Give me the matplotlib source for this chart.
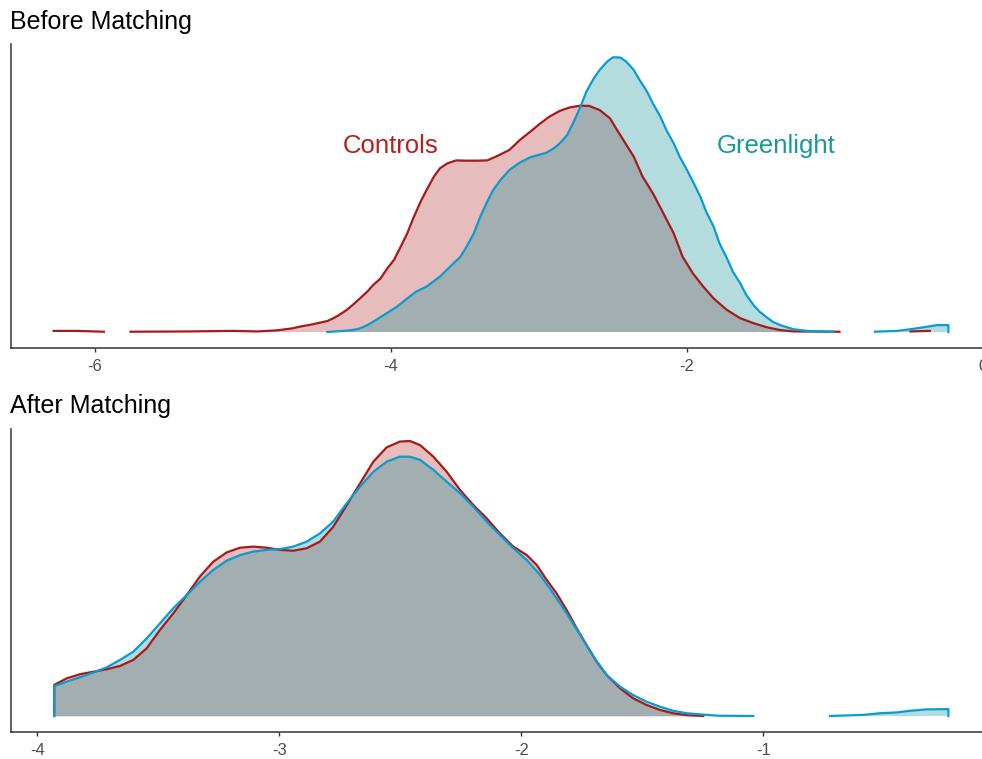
import numpy as np
import matplotlib
matplotlib.use("Agg")
import matplotlib.pyplot as plt

nan = np.nan

# density curves (y in arbitrary density units)
before_ctrl_x = [-6.28, -6.12, -5.94, -5.85, -5.76, -5.37, -5.07, -4.90, -4.77, -4.67, -4.62,
                 -4.53, -4.43, -4.39, -4.35, -4.30, -4.26, -4.21, -4.16, -4.12, -4.07, -4.03,
                 -3.98, -3.94, -3.89, -3.85, -3.80, -3.76, -3.71, -3.67, -3.62, -3.56, -3.49,
                 -3.42, -3.35, -3.29, -3.20, -3.13, -3.06, -2.99, -2.93, -2.86, -2.79, -2.72,
                 -2.66, -2.59, -2.52, -2.48, -2.43, -2.36, -2.30, -2.23, -2.16, -2.09, -2.03,
                 -1.96, -1.89, -1.82, -1.73, -1.64, -1.55, -1.46, -1.37, -1.28, -0.97, -0.72,
                 -0.49, -0.36]
before_ctrl_y = [0.004, 0.004, 0.001, nan, 0.001, 0.002, 0.004, 0.002, 0.006, 0.013, 0.019,
                 0.028, 0.040, 0.050, 0.062, 0.080, 0.098, 0.122, 0.147, 0.171, 0.195, 0.228,
                 0.262, 0.304, 0.359, 0.413, 0.474, 0.516, 0.565, 0.595, 0.613, 0.624, 0.623,
                 0.623, 0.624, 0.638, 0.662, 0.698, 0.728, 0.759, 0.783, 0.804, 0.817, 0.823,
                 0.822, 0.807, 0.777, 0.741, 0.698, 0.638, 0.565, 0.504, 0.432, 0.359, 0.274,
                 0.213, 0.165, 0.122, 0.080, 0.050, 0.032, 0.017, 0.007, 0.002, 0.001, nan,
                 0.002, 0.004]

before_green_x = [-4.43, -4.32, -4.26, -4.21, -4.16, -4.10, -4.03, -3.96, -3.89, -3.83, -3.76,
                  -3.67, -3.60, -3.53, -3.49, -3.44, -3.40, -3.35, -3.31, -3.26, -3.20, -3.13,
                  -3.06, -2.99, -2.95, -2.90, -2.86, -2.81, -2.77, -2.72, -2.68, -2.63, -2.59,
                  -2.54, -2.50, -2.45, -2.41, -2.36, -2.32, -2.27, -2.23, -2.18, -2.14, -2.09,
                  -2.05, -2.00, -1.96, -1.91, -1.87, -1.82, -1.78, -1.73, -1.69, -1.64, -1.60,
                  -1.55, -1.51, -1.46, -1.42, -1.37, -1.28, -1.19, -1.01, -0.87, -0.73, -0.58,
                  -0.49, -0.38, -0.31, -0.234, -0.234]
before_green_y = [0.0, 0.004, 0.007, 0.013, 0.025, 0.044, 0.068, 0.092, 0.122, 0.147, 0.165,
                  0.201, 0.238, 0.274, 0.310, 0.359, 0.415, 0.474, 0.516, 0.553, 0.589, 0.616,
                  0.635, 0.646, 0.652, 0.668, 0.686, 0.716, 0.759, 0.819, 0.874, 0.922, 0.953,
                  0.983, 0.999, 0.998, 0.983, 0.953, 0.916, 0.874, 0.831, 0.783, 0.735, 0.686,
                  0.638, 0.589, 0.547, 0.492, 0.437, 0.383, 0.322, 0.268, 0.219, 0.177, 0.135,
                  0.098, 0.074, 0.053, 0.037, 0.025, 0.010, 0.004, 0.001, nan, 0.001, 0.004,
                  0.010, 0.019, 0.025, 0.025, 0.0]

after_ctrl_x = [-3.931, -3.931, -3.879, -3.824, -3.769, -3.714, -3.659, -3.604, -3.549, -3.494,
                -3.439, -3.383, -3.329, -3.274, -3.218, -3.163, -3.108, -3.053, -2.998, -2.943,
                -2.888, -2.833, -2.778, -2.722, -2.667, -2.612, -2.557, -2.502, -2.461, -2.419,
                -2.364, -2.309, -2.254, -2.199, -2.144, -2.089, -2.034, -1.978, -1.937, -1.896,
                -1.855, -1.813, -1.772, -1.731, -1.689, -1.648, -1.593, -1.538, -1.483, -1.428,
                -1.373, -1.317, -1.249]
after_ctrl_y = [0.0, 0.113, 0.137, 0.152, 0.161, 0.170, 0.182, 0.204, 0.246, 0.313,
                0.373, 0.440, 0.507, 0.561, 0.595, 0.612, 0.616, 0.612, 0.604, 0.601,
                0.610, 0.634, 0.688, 0.767, 0.846, 0.925, 0.977, 0.998, 1.000, 0.985,
                0.943, 0.888, 0.822, 0.767, 0.719, 0.664, 0.616, 0.585, 0.549, 0.495,
                0.446, 0.385, 0.319, 0.258, 0.197, 0.149, 0.101, 0.064, 0.040, 0.022,
                0.010, 0.003, 0.0]

after_green_x = [-3.931, -3.931, -3.879, -3.824, -3.769, -3.714, -3.659, -3.604, -3.549, -3.494,
                 -3.439, -3.383, -3.329, -3.274, -3.218, -3.163, -3.108, -3.053, -2.998, -2.943,
                 -2.888, -2.833, -2.778, -2.722, -2.667, -2.612, -2.557, -2.502, -2.461, -2.419,
                 -2.364, -2.309, -2.254, -2.199, -2.144, -2.089, -2.034, -1.978, -1.923, -1.869,
                 -1.813, -1.758, -1.703, -1.648, -1.593, -1.538, -1.483, -1.428, -1.373, -1.317,
                 -1.235, -1.186, -1.042, -0.88, -0.725, -0.588, -0.519, -0.449, -0.395, -0.326,
                 -0.236, -0.236]
after_green_y = [0.0, 0.109, 0.125, 0.141, 0.158, 0.177, 0.204, 0.234, 0.282, 0.337,
                 0.392, 0.440, 0.488, 0.531, 0.565, 0.585, 0.598, 0.604, 0.607, 0.616,
                 0.634, 0.664, 0.707, 0.774, 0.834, 0.888, 0.925, 0.943, 0.943, 0.931,
                 0.895, 0.852, 0.810, 0.761, 0.707, 0.658, 0.610, 0.567, 0.513, 0.446,
                 0.373, 0.295, 0.216, 0.149, 0.107, 0.076, 0.052, 0.034, 0.019, 0.010,
                 0.004, 0.001, 0.0, nan, 0.0, 0.004, 0.010, 0.013, 0.019, 0.024,
                 0.025, 0.0]

before_ticks = [-6, -4, -2, 0]
after_ticks = [-4, -3, -2, -1]

ctrl_fill = "#b22222"
ctrl_line = "#a51b1b"
green_fill = "#088e98"
green_line = "#0a9bd0"

plt.rcParams["font.family"] = ["Liberation Sans", "DejaVu Sans"]

W, H = 982, 759
fig = plt.figure(figsize=(W / 100, H / 100), dpi=100)


def px_axes(left, top, right, bottom):
    return fig.add_axes([left / W, 1 - bottom / H, (right - left) / W, (bottom - top) / H])


def draw(ax, cx, cy, gx, gy):
    cx, cy, gx, gy = map(np.asarray, (cx, cy, gx, gy))
    ax.fill_between(cx, 0, cy, color=ctrl_fill, alpha=0.3, linewidth=0)
    ax.plot(cx, cy, color=ctrl_line, lw=1.6)
    ax.fill_between(gx, 0, gy, color=green_fill, alpha=0.3, linewidth=0)
    ax.plot(gx, gy, color=green_line, lw=1.6)


def style(ax, ticks):
    for s in ("top", "right"):
        ax.spines[s].set_visible(False)
    for s in ("left", "bottom"):
        ax.spines[s].set_color("#333333")
        ax.spines[s].set_linewidth(1.1)
    ax.set_yticks([])
    ax.set_xticks(ticks)
    ax.set_xticklabels([str(t) for t in ticks])
    ax.tick_params(axis="x", length=3, width=1, color="#333333",
                   labelsize=12, labelcolor="#4d4d4d", pad=5)


ax1 = px_axes(11, 44, 990, 348)
draw(ax1, before_ctrl_x, before_ctrl_y, before_green_x, before_green_y)
ax1.set_xlim(-6 + (11 - 95) / 148, -6 + (990 - 95) / 148)
ax1.set_ylim(-16 / 275, 288 / 275)
style(ax1, before_ticks)
ax1.text(-4.0, 0.676, "Controls", color="#b2221f", fontsize=18.5, ha="center", va="center")
ax1.text(-1.4, 0.676, "Greenlight", color="#17999b", fontsize=18.5, ha="center", va="center")

ax2 = px_axes(11, 429, 990, 732)
draw(ax2, after_ctrl_x, after_ctrl_y, after_green_x, after_green_y)
ax2.set_xlim(-4 + (11 - 37.5) / 242, -4 + (990 - 37.5) / 242)
ax2.set_ylim(-16 / 275, 287 / 275)
style(ax2, after_ticks)

fig.text(10 / W, 1 - 28.5 / H, "Before Matching", fontsize=18, va="baseline", ha="left")
fig.text(10 / W, 1 - 413 / H, "After Matching", fontsize=18, va="baseline", ha="left")

fig.savefig("out.png", dpi=100)
